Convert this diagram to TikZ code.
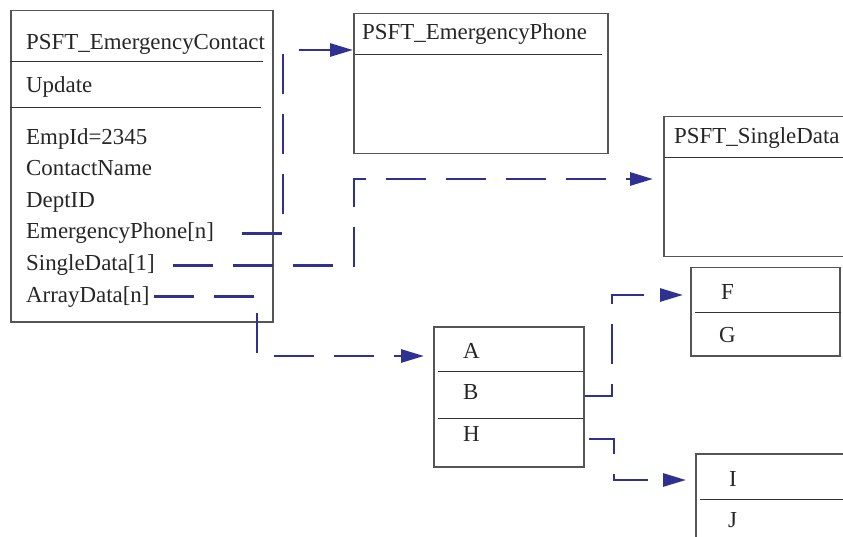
\documentclass[tikz,border=0pt]{standalone}
\usepackage{fontspec}
\setmainfont{Liberation Serif}
\usepackage{tikz}
\usetikzlibrary{arrows.meta}

\definecolor{linkblue}{RGB}{46,49,146}
\definecolor{boxgray}{RGB}{85,85,85}

\begin{document}
\begin{tikzpicture}[x=1pt, y=-1pt,
    box/.style={draw=boxgray, line width=1.5pt, anchor=north west, inner sep=0pt},
    sep/.style={line width=1pt, black!80},
    field/.style={anchor=base west, inner sep=0pt, text=black!85, font=\fontsize{22.9}{27}\selectfont},
    link/.style={linkblue, line width=2.8pt, dash pattern=on 40pt off 20pt, -{Triangle[length=23pt, width=13pt]}}]
    \useasboundingbox (0,0) rectangle (843,537);
    \clip (0,0) rectangle (843,537);

    % Emergency contact record
    \node[box, minimum width=262pt, minimum height=311pt] (contact) at (10,10) {};
    \node[field] (contacttitle) at (26,50) {PSFT\_EmergencyContact};
    \draw[sep] (10,62) -- (263,62);
    \node[field] (update) at (26,93) {Update};
    \draw[sep] (10,108) -- (261,108);
    \node[field] (empid) at (26,145) {EmpId=2345};
    \node[field] (cname) at (26,176) {ContactName};
    \node[field] (dept) at (26,208) {DeptID};
    \node[field] (ephone) at (26,239) {EmergencyPhone[n]};
    \node[field] (single) at (26,271) {SingleData[1]};
    \node[field] (array) at (26,302) {ArrayData[n]};

    % Phone record
    \node[box, minimum width=254pt, minimum height=140pt] (phone) at (353,13) {};
    \node[field] (phonetitle) at (362,40) {PSFT\_EmergencyPhone};
    \draw[sep] (355,55) -- (602,55);

    % Single data record
    \node[box, minimum width=220pt, minimum height=140pt] (sdata) at (663,116) {};
    \node[field] (sdatatitle) at (674,144) {PSFT\_SingleData};
    \draw[sep] (665,158) -- (850,158);

    % Array rows
    \node[box, minimum width=150pt, minimum height=140pt] (abh) at (433,326) {};
    \node[field] (rowa) at (463,358) {A};
    \draw[sep] (438,371) -- (583,371);
    \node[field] (rowb) at (463,399) {B};
    \draw[sep] (438,418) -- (583,418);
    \node[field] (rowh) at (463,441) {H};

    \node[box, minimum width=149pt, minimum height=88pt] (fg) at (690,267) {};
    \node[field] (rowf) at (721,299) {F};
    \draw[sep] (695,312) -- (841,312);
    \node[field] (rowg) at (719,342) {G};

    \node[box, minimum width=200pt, minimum height=120pt] (ij) at (695,453) {};
    \node[field] (rowi) at (729,486) {I};
    \draw[sep] (700,499) -- (850,499);
    \node[field] (rowj) at (728,527) {J};

    % Links
    \draw[link, shorten <=28pt] (ephone.east) -- (ephone.east -| 283,0) |- (phone.west |- 0,50);
    \draw[link, shorten <=18pt, shorten >=10pt] (single.east) -- (single.east -| 354,0) |- (sdata.west |- 0,179);
    \draw[link, shorten <=4pt, shorten >=9pt] (array.east) -- (array.east -| 257,0) |- (abh.west |- 0,356);
    \draw[link, shorten >=7pt] (abh.east |- 0,396) -- (612,396) |- (fg.west |- 0,295);
    \draw[link, shorten <=4pt, shorten >=9pt] (abh.east |- 0,439) -- (614,439) |- (ij.west |- 0,480);
\end{tikzpicture}
\end{document}
